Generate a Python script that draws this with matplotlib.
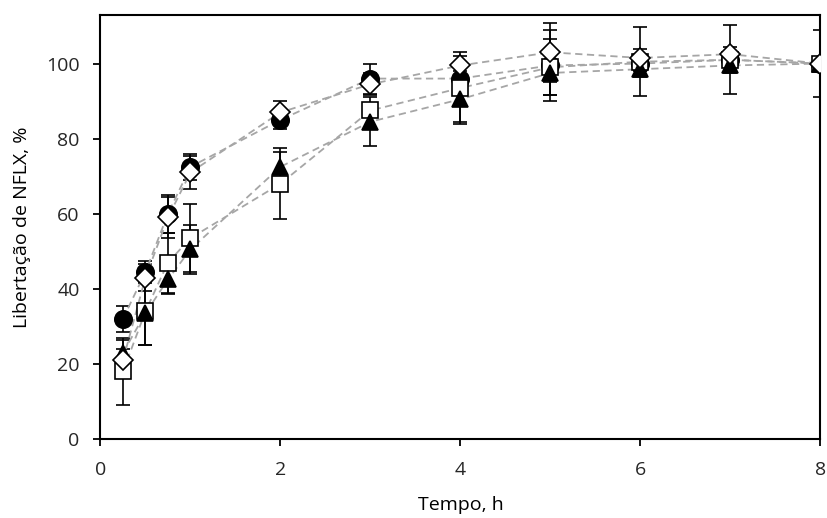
import numpy as np
import matplotlib.pyplot as plt

plt.rcParams['font.family'] = ['Open Sans', 'DejaVu Sans']
plt.rcParams['text.color'] = '#262626'

# ── Release data (mean ± sd) ──────────────────────────────────────────────────
tempo = [0.25, 0.5, 0.75, 1, 2, 3, 4, 5, 6, 7, 8]

circ_mean = [32, 44.5, 60, 72.5, 85, 96, 96, 99.5, 100, 101, 100]
circ_sd   = [3.5, 3, 5, 3.5, 2.5, 4, 2, 9.5, 2, 1.5, 1]

sq_mean   = [18, 34, 47, 53.5, 68, 87.5, 93.5, 99, 100.5, 101, 100]
sq_sd     = [9, 9, 8, 9, 9.5, 1.5, 9.5, 7.5, 9.2, 9.2, 9]

tri_mean  = [23, 33.5, 42.5, 50.5, 72.5, 84.5, 90.5, 97.5, 98.5, 99.5, 100]
tri_sd    = [3.5, 8.5, 4, 6.5, 4, 6.5, 6, 6, 2, 2, 1]

dia_mean  = [21, 43, 59, 71, 87, 94.5, 99.5, 103, 101.5, 102.5, 100]
dia_sd    = [3, 3.5, 5.5, 4.5, 3, 3, 2.5, 7.8, 2.5, 2, 1]

series = [
    (circ_mean, circ_sd, 'o', 'black', 12.5),
    (sq_mean,   sq_sd,   's', 'white', 11.5),
    (tri_mean,  tri_sd,  '^', 'black', 12),
    (dia_mean,  dia_sd,  'D', 'white', 10),
]

fig = plt.figure(figsize=(8.27, 5.18), dpi=100)
ax = fig.add_axes([0.1215, 0.1525, 0.8705, 0.819])

for mean, sd, mk, fc, ms in series:
    ax.errorbar(tempo, mean, yerr=sd, fmt='none', ecolor='black',
                elinewidth=1.2, capsize=5, capthick=1.2, zorder=2)
for mean, sd, mk, fc, ms in series:
    ax.plot(tempo, mean, linestyle=(0, (4, 2.5)), color='#a6a6a6',
            linewidth=1.3, zorder=3)
for mean, sd, mk, fc, ms in series:
    ax.plot(tempo, mean, linestyle='none', marker=mk, markersize=ms,
            markerfacecolor=fc, markeredgecolor='black',
            markeredgewidth=1.2, zorder=4)

ax.set_xlim(0, 8)
ax.set_ylim(0, 113)
ax.set_xticks([0, 2, 4, 6, 8])
ax.set_yticks([0, 20, 40, 60, 80, 100])
ax.tick_params(direction='out', length=5, width=1.3, labelsize=14,
               color='black', labelcolor='#262626')
ax.tick_params(axis='x', pad=11)
ax.tick_params(axis='y', pad=10)
for sp in ax.spines.values():
    sp.set_linewidth(1.5)
    sp.set_color('black')

ax.set_xlabel('Tempo, h', fontsize=14, labelpad=12)
ax.set_ylabel('Libertação de NFLX, %', fontsize=14, labelpad=11)

fig.savefig('out.png', dpi=100)
